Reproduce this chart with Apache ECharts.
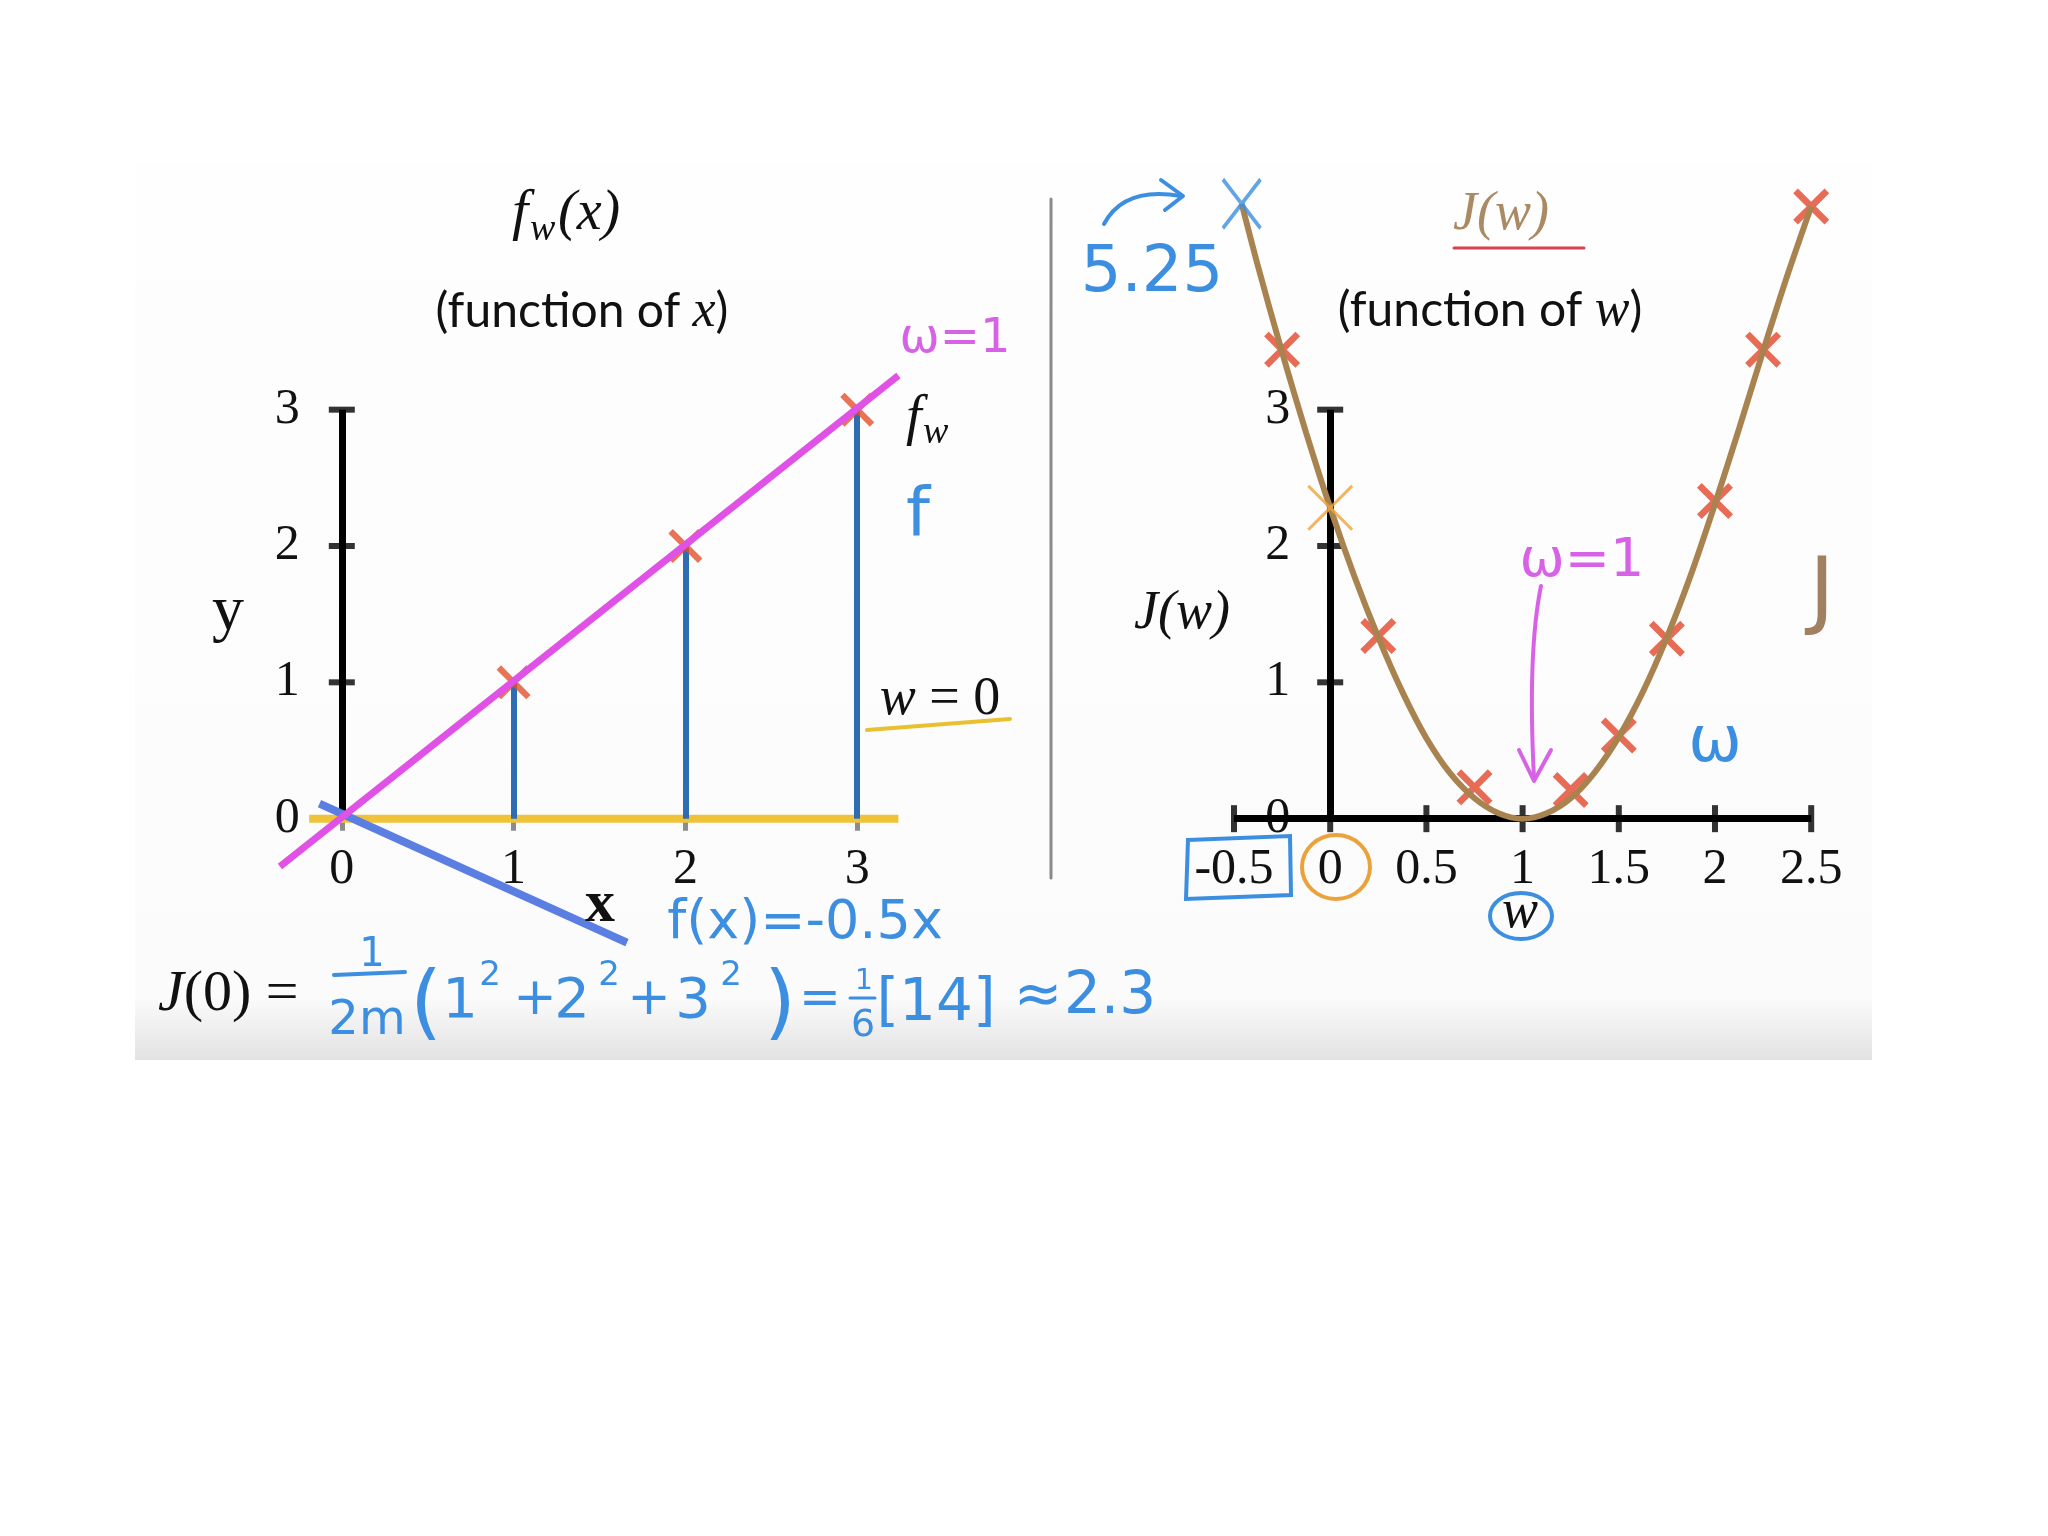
<!DOCTYPE html>
<html><head><meta charset="utf-8">
<script src="https://cdn.jsdelivr.net/npm/echarts@6/dist/echarts.min.js"></script>
<style>html,body{margin:0;padding:0;background:#fff}#c{width:2048px;height:1536px}</style>
</head><body><div id="c"></div><script>
// ---------- data ----------
// left panel: training set and lines
const trainX = [1, 2, 3];
const trainY = [1, 2, 3];
const leftXTicks = [0, 1, 2, 3];
const leftYTicks = [0, 1, 2, 3];
const w0LineX = [-0.19, 3.24];          // f_w with w = 0 (yellow)
const w0LineY = [0, 0];
const w1LineX = [-0.36, 3.24];          // f_w with w = 1 (magenta)
const w1LineY = [-0.35, 3.25];
const negLineX = [-0.13, 1.66];         // f(x) = -0.5x (blue)
const negLineY = [0.11, -0.91];
// right panel: cost curve J(w) as drawn (apparent values on the axis)
const curveW = [-0.46, -0.375, -0.25, -0.125, 0, 0.125, 0.25, 0.375, 0.5, 0.625, 0.75, 0.875, 1,
                1.125, 1.25, 1.375, 1.5, 1.625, 1.75, 1.875, 2, 2.125, 2.25, 2.375, 2.5];
const curveJ = [4.51, 4.05, 3.42, 2.83, 2.28, 1.78, 1.33, 0.93, 0.59, 0.33, 0.15, 0.04, 0,
                0.04, 0.15, 0.34, 0.6, 0.93, 1.33, 1.79, 2.31, 2.86, 3.43, 3.98, 4.49];
const costW = [-0.25, 0.25, 0.75, 1.25, 1.5, 1.75, 2, 2.25, 2.5];
const costJ = [3.44, 1.34, 0.23, 0.21, 0.61, 1.32, 2.33, 3.44, 4.49];
const j0W = [0];        const j0J = [2.28];     // orange cross J(0)
const jNegW = [-0.46];  const jNegJ = [4.51];   // blue cross J(-0.5) = 5.25
const rightXTicks = [-0.5, 0, 0.5, 1, 1.5, 2, 2.5];
const rightYTicks = [0, 1, 2, 3];

// ---------- helpers ----------
const zip = (a, b) => a.map((v, i) => [v, b[i]]);
function xPath(d) {
  const a = 5 - d, b = 5 + d, e = 10 - d;
  return `path://M0,${d}L${d},0L5,${a}L${e},0L10,${d}L${b},5L10,${e}L${e},10L5,${b}L${d},10L0,${e}L${a},5Z`;
}
const SERIF = 'Liberation Serif';
const HAND = 'DejaVu Sans';
const BLUE = '#3b8ee0', MAG = '#d862e6', BROWN = '#a9834f';

function txt(text, x, y, size, opt) {
  opt = opt || {};
  return { type: 'text', z: 20, style: Object.assign({
    text: text, x: x, y: y, fontSize: size, fontFamily: opt.family || SERIF,
    fontStyle: opt.italic ? 'italic' : 'normal', fontWeight: opt.weight || 'normal', fill: opt.color || '#111',
    align: opt.align || 'center', verticalAlign: 'middle'
  }, opt.extra || {}) };
}
function hand(text, x, y, size, color) { return txt(text, x, y, size, { family: HAND, color: color || BLUE }); }
function seg(x1, y1, x2, y2, color, w) {
  return { type: 'line', z: 20, shape: { x1, y1, x2, y2 }, style: { stroke: color, lineWidth: w, lineCap: 'round' } };
}
function pline(points, color, w) {
  return { type: 'polyline', z: 20, shape: { points: points }, style: { stroke: color, lineWidth: w, fill: 'none', lineCap: 'round', lineJoin: 'round' } };
}
function bez(shape, color, w) {
  return { type: 'bezierCurve', z: 20, shape: shape, style: { stroke: color, lineWidth: w, fill: 'none', lineCap: 'round' } };
}

const tickLabel = { fontSize: 50, fontFamily: SERIF, color: '#111' };

const graphics = [
  { type: 'rect', z: -10, silent: true, shape: { x: 135, y: 162, width: 1737, height: 898 },
    style: { fill: { type: 'linear', x: 0, y: 0, x2: 0, y2: 1, colorStops: [
      { offset: 0, color: '#fefefe' }, { offset: 0.93, color: '#fbfbfb' }, { offset: 1, color: '#e2e2e2' }] } } },
  seg(1051, 199, 1051, 878, '#8a8a8a', 3),
  // left titles
  txt('f', 512, 214, 58, { italic: true, align: 'left' }),
  txt('w', 530, 230, 38, { italic: true, align: 'left' }),
  txt('(x)', 558, 214, 56, { italic: true, align: 'left' }),
  { type: 'text', z: 20, style: { text: '{a|(function of }{b|x}{a|)}', x: 582, y: 312, align: 'center', verticalAlign: 'middle',
    rich: { a: { fontSize: 48, fontFamily: 'Lato', fill: '#111' }, b: { fontSize: 52, fontFamily: SERIF, fontStyle: 'italic', fill: '#111' } } } },
  txt('y', 228, 612, 64),
  txt('x', 600, 905, 60, { weight: 'bold' }),
  hand('ω=1', 955, 340, 48, MAG),
  txt('f', 906, 419, 56, { italic: true, align: 'left' }),
  txt('w', 923, 433, 38, { italic: true, align: 'left' }),
  hand('f', 918, 518, 68, '#3f8fe0'),
  { type: 'text', z: 20, style: { text: '{a|w}{b| = 0}', x: 940, y: 700, align: 'center', verticalAlign: 'middle',
    rich: { a: { fontSize: 54, fontFamily: SERIF, fontStyle: 'italic', fill: '#111' }, b: { fontSize: 54, fontFamily: SERIF, fill: '#111' } } } },
  seg(867, 730, 1010, 719, '#e8c030', 4),
  hand('f(x)=-0.5x', 805, 924, 54),
  // right titles
  { type: 'text', z: 20, style: { text: 'J(w)', x: 1501, y: 215, align: 'center', verticalAlign: 'middle',
    fontSize: 54, fontFamily: SERIF, fontStyle: 'italic', fill: '#a98a62' } },
  seg(1454, 248, 1584, 248, '#d94050', 3),
  { type: 'text', z: 20, style: { text: '{a|(function of }{b|w}{a|)}', x: 1490, y: 311, align: 'center', verticalAlign: 'middle',
    rich: { a: { fontSize: 48, fontFamily: 'Lato', fill: '#111' }, b: { fontSize: 52, fontFamily: SERIF, fontStyle: 'italic', fill: '#111' } } } },
  txt('J(w)', 1182, 614, 54, { italic: true }),
  txt('w', 1520, 913, 54, { italic: true }),
  hand('5.25', 1152, 274, 64),
  bez({ x1: 1104, y1: 224, x2: 1181, y2: 196, cpx1: 1124, cpy1: 186 }, BLUE, 4),
  pline([[1161, 180], [1183, 196], [1165, 210]], BLUE, 4),
  hand('ω=1', 1582, 562, 54, MAG),
  bez({ x1: 1541, y1: 586, x2: 1534, y2: 778, cpx1: 1530, cpy1: 640, cpx2: 1531, cpy2: 720 }, MAG, 4),
  pline([[1519, 750], [1534, 781], [1551, 750]], MAG, 4),
  hand('J', 1822, 596, 86, '#a08060'),
  hand('ω', 1715, 744, 64),
  { type: 'polygon', z: 20, shape: { points: [[1188, 840], [1290, 836], [1291, 895], [1186, 899]] }, style: { fill: 'none', stroke: BLUE, lineWidth: 4 } },
  { type: 'ellipse', z: 20, shape: { cx: 1336, cy: 867, rx: 34, ry: 32 }, style: { fill: 'none', stroke: '#eba23a', lineWidth: 4 } },
  { type: 'ellipse', z: 20, shape: { cx: 1521, cy: 916, rx: 31, ry: 23 }, style: { fill: 'none', stroke: BLUE, lineWidth: 4 } },
  // bottom formula
  { type: 'text', z: 20, style: { text: '{a|J}{b|(0) =}', x: 158, y: 995, align: 'left', verticalAlign: 'middle',
    rich: { a: { fontSize: 58, fontFamily: SERIF, fontStyle: 'italic', fill: '#111' }, b: { fontSize: 58, fontFamily: SERIF, fill: '#111' } } } },
  hand('1', 372, 956, 40),
  seg(334, 975, 405, 972, BLUE, 4),
  hand('2m', 367, 1022, 48),
  hand('(', 426, 1008, 82),
  hand('1', 460, 1002, 56), hand('2', 490, 976, 34),
  hand('+', 535, 1000, 52),
  hand('2', 572, 1002, 56), hand('2', 609, 976, 34),
  hand('+', 649, 1000, 52),
  hand('3', 693, 1002, 56), hand('2', 731, 976, 34),
  hand(')', 780, 1008, 82),
  hand('=', 820, 1001, 50),
  hand('1', 864, 982, 28),
  seg(850, 998, 875, 998, BLUE, 3),
  hand('6', 863, 1026, 38),
  hand('[14]', 936, 1005, 58),
  hand('≈', 1038, 998, 58),
  hand('2.3', 1110, 998, 58)
];

const blackLine = { color: '#000', width: 7, opacity: 1 };
const base0 = { xAxisIndex: 0, yAxisIndex: 0, silent: true, animation: false };
const base1 = { xAxisIndex: 1, yAxisIndex: 1, silent: true, animation: false };

// grid geometry: y range [-1, 5] over 818 px -> zero line 136.33 px above the grid bottom
const GRID_TOP = 137, GRID_H = 818;
const L_LEFT = 170, L_W = 859, R_LEFT = 1137.8, R_W = 769.6;
const X_OFF = -(GRID_H / 6);            // move x axes up to y = 0
const LY_OFF = -(L_W / 5);              // move left y axis to x = 0
const RY_OFF = -(R_W / 4);              // move right y axis to w = 0

const option = {
  animation: false,
  backgroundColor: '#ffffff',
  grid: [
    { left: L_LEFT, top: GRID_TOP, width: L_W, height: GRID_H },
    { left: R_LEFT, top: GRID_TOP, width: R_W, height: GRID_H }
  ],
  xAxis: [
    { gridIndex: 0, type: 'value', min: -1, max: 4, interval: 1, offset: X_OFF,
      axisLine: { show: false, onZero: false }, splitLine: { show: false },
      axisTick: { show: true, customValues: leftXTicks, length: 12, lineStyle: { color: '#8c8c8c', width: 5 } },
      axisLabel: Object.assign({ customValues: leftXTicks, margin: 26 }, tickLabel) },
    { gridIndex: 1, type: 'value', min: -1, max: 3, interval: 0.5, offset: X_OFF,
      axisLine: { show: false, onZero: false }, splitLine: { show: false }, axisTick: { show: false },
      axisLabel: Object.assign({ customValues: rightXTicks, margin: 26 }, tickLabel) }
  ],
  yAxis: [
    { gridIndex: 0, type: 'value', min: -1, max: 5, interval: 1, offset: LY_OFF,
      axisLine: { show: false, onZero: false }, splitLine: { show: false }, axisTick: { show: false },
      axisLabel: Object.assign({ customValues: leftYTicks, margin: 42 }, tickLabel) },
    { gridIndex: 1, type: 'value', min: -1, max: 5, interval: 1, offset: RY_OFF,
      axisLine: { show: false, onZero: false }, splitLine: { show: false }, axisTick: { show: false },
      axisLabel: Object.assign({ customValues: rightYTicks, margin: 40 }, tickLabel) }
  ],
  graphic: graphics,
  series: [
    // ----- left -----
    Object.assign({ type: 'line', data: zip(w0LineX, w0LineY), symbol: 'none', lineStyle: { color: '#efc23a', width: 8 }, z: 2 }, base0),
    Object.assign({ type: 'lines', coordinateSystem: 'cartesian2d', z: 3,
      data: trainX.map((x, i) => ({ coords: [[x, 0], [x, trainY[i]]] })),
      lineStyle: { color: '#2f6db3', width: 6, opacity: 1 } }, base0),
    Object.assign({ type: 'lines', coordinateSystem: 'cartesian2d', z: 3,
      data: [{ coords: [[0, leftYTicks[0]], [0, leftYTicks[leftYTicks.length - 1]]] }], lineStyle: blackLine }, base0),
    Object.assign({ type: 'scatter', z: 3, data: leftYTicks.slice(1).map(v => [0, v]), symbol: 'rect', symbolSize: [26, 6], itemStyle: { color: '#000' } }, base0),
    Object.assign({ type: 'line', z: 4, data: zip(negLineX, negLineY), symbol: 'none', lineStyle: { color: '#5a7ee2', width: 8 } }, base0),
    Object.assign({ type: 'scatter', z: 5, data: zip(trainX, trainY), symbol: xPath(1.3), symbolSize: 34, itemStyle: { color: '#e2502a' } }, base0),
    Object.assign({ type: 'line', z: 6, data: zip(w1LineX, w1LineY), symbol: 'none', lineStyle: { color: '#e052e6', width: 7 } }, base0),
    // ----- right -----
    Object.assign({ type: 'lines', coordinateSystem: 'cartesian2d', z: 3,
      data: [{ coords: [[rightXTicks[0], 0], [rightXTicks[rightXTicks.length - 1], 0]] },
             { coords: [[0, rightYTicks[0]], [0, rightYTicks[rightYTicks.length - 1]]] }], lineStyle: blackLine }, base1),
    Object.assign({ type: 'scatter', z: 3, data: rightXTicks.map(v => [v, 0]), symbol: 'rect', symbolSize: [6, 27], itemStyle: { color: '#000' } }, base1),
    Object.assign({ type: 'scatter', z: 3, data: rightYTicks.slice(1).map(v => [0, v]), symbol: 'rect', symbolSize: [26, 6], itemStyle: { color: '#000' } }, base1),
    Object.assign({ type: 'scatter', z: 4, data: zip(costW, costJ), symbol: xPath(1.3), symbolSize: 36, itemStyle: { color: '#e2462a' } }, base1),
    Object.assign({ type: 'line', z: 5, data: zip(curveW, curveJ), smooth: 0.3, symbol: 'none', lineStyle: { color: BROWN, width: 6 } }, base1),
    Object.assign({ type: 'scatter', z: 6, data: zip(j0W, j0J), symbol: xPath(0.45), symbolSize: 46, itemStyle: { color: '#f0a33a' } }, base1),
    Object.assign({ type: 'scatter', z: 6, data: zip(jNegW, jNegJ), symbol: xPath(0.6), symbolSize: [40, 52], itemStyle: { color: BLUE } }, base1)
  ]
};
const chart = echarts.init(document.getElementById('c'), null, { renderer: 'canvas' });
chart.setOption(option);
</script></body></html>
